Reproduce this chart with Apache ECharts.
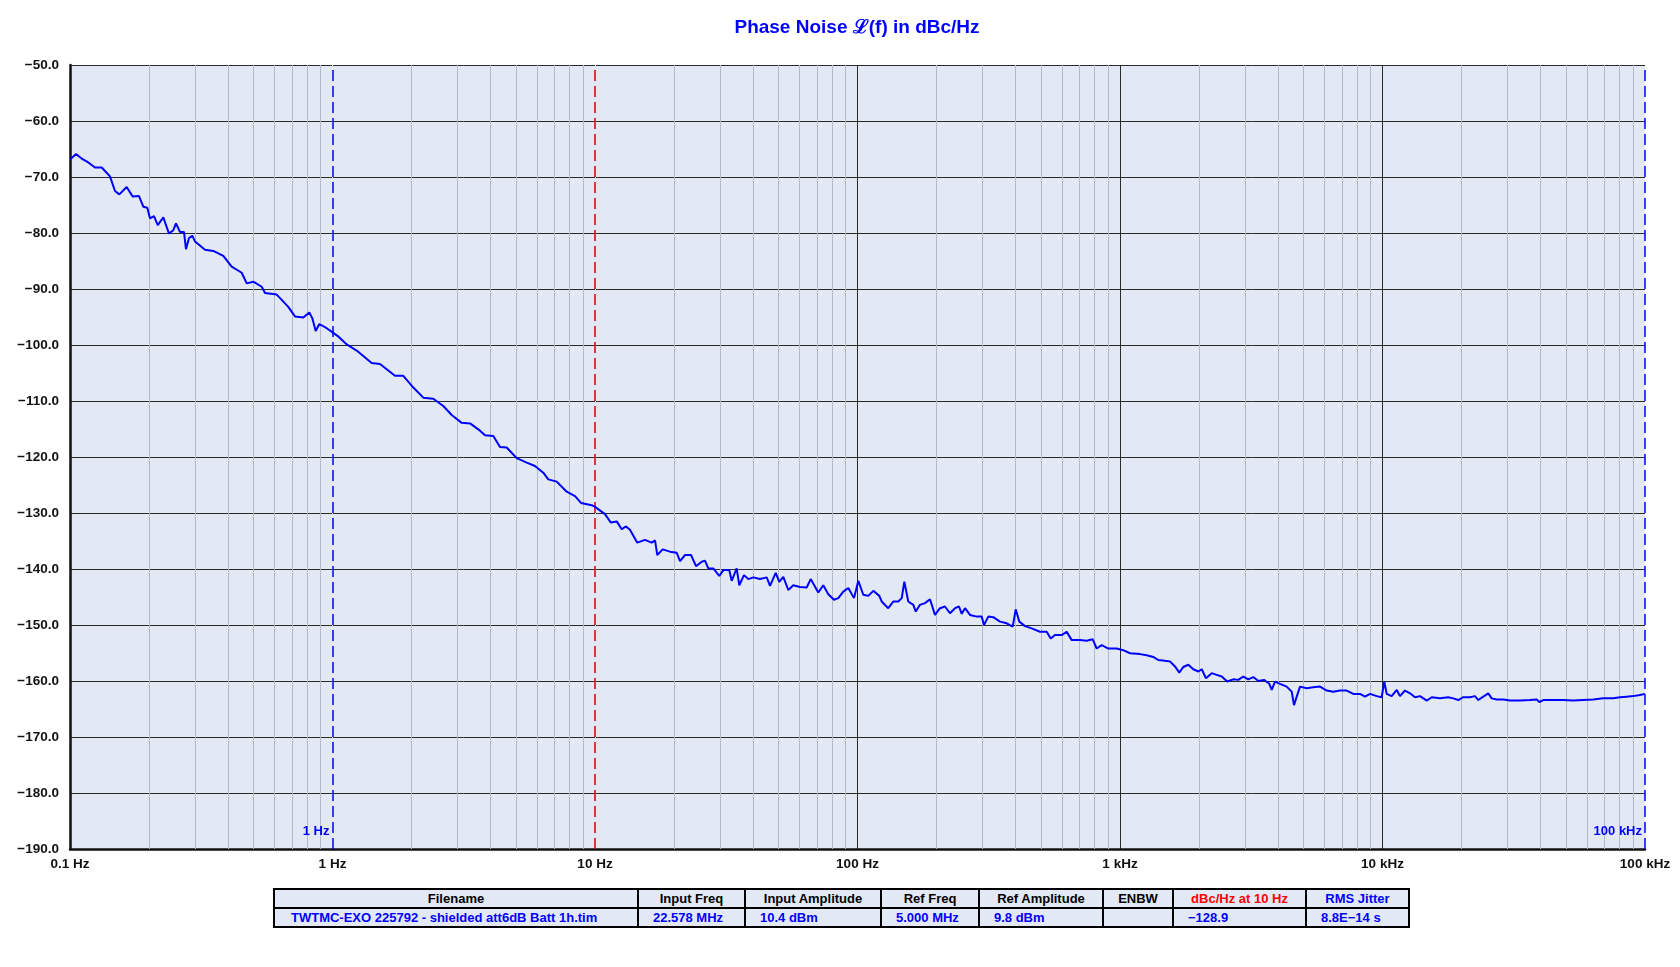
<!DOCTYPE html>
<html>
<head>
<meta charset="utf-8">
<script src="https://cdn.jsdelivr.net/npm/echarts@6/dist/echarts.min.js"></script>
<style>
  html, body { margin: 0; padding: 0; background: #ffffff; }
  #chart { position: absolute; left: 0; top: 0; width: 1680px; height: 967px; }
  #info {
    position: absolute; left: 273px; top: 888px; width: 1135px;
    border-collapse: collapse; table-layout: fixed;
    font-family: "Liberation Sans", Arial, sans-serif; font-size: 13px; font-weight: bold;
    background: #e3e8f5; border: 2px solid #000;
  }
  #info td, #info th { border: 2px solid #000; height: 17px; padding: 0; white-space: nowrap; overflow: hidden; line-height: 17px; }
  #info th { text-align: center; color: #000; font-weight: bold; }
  #info td { text-align: left; color: #0000ff; padding-left: 14px; }
  #info td.first { padding-left: 16px; }
</style>
</head>
<body>
<div id="chart"></div>
<table id="info"><colgroup id="cols"></colgroup><tr id="hdr"></tr><tr id="row"></tr></table>
<script>
// ---- data ----
const freqHz = [
  0.1, 0.1054, 0.1108, 0.1174, 0.1245, 0.1321, 0.142, 0.1484, 0.1541, 0.1644,
  0.1734, 0.1832, 0.1902, 0.197, 0.2018, 0.2089, 0.2159, 0.2267, 0.2383, 0.2475,
  0.2534, 0.2624, 0.2718, 0.2766, 0.284, 0.2924, 0.2994, 0.3268, 0.3515, 0.3837,
  0.413, 0.451, 0.4712, 0.4993, 0.5375, 0.5533, 0.6131, 0.6785, 0.7195, 0.7742,
  0.8157, 0.8375, 0.863, 0.8906, 0.9502, 0.998, 1.06, 1.133, 1.236, 1.41,
  1.517, 1.73, 1.861, 2.032, 2.218, 2.421, 2.643, 2.845, 3.106, 3.341,
  3.647, 3.811, 4.099, 4.346, 4.608, 5.031, 5.494, 5.908, 6.353, 6.638,
  7.147, 7.803, 8.393, 8.845, 9.714, 10.0, 10.92, 11.48, 12.10, 12.64,
  13.12, 13.59, 14.49, 15.50, 16.44, 16.93, 17.27, 18.11, 19.31, 20.48,
  21.08, 22.03, 23.22, 24.26, 25.50, 26.24, 27.02, 28.23, 29.75, 30.82,
  32.48, 33.17, 34.65, 35.45, 36.95, 38.37, 40.09, 42.53, 45.10, 46.42,
  48.80, 50.36, 52.16, 54.50, 56.94, 60.39, 64.04, 66.32, 70.90, 74.08,
  77.40, 81.37, 84.49, 88.29, 92.25, 96.99, 100.7, 105.2, 109.9, 114.9,
  121.1, 123.6, 131.0, 136.9, 143.0, 147.4, 150.8, 156.1, 163.2, 166.7,
  173.0, 180.7, 188.9, 197.3, 206.2, 215.4, 225.1, 235.2, 243.6, 249.5,
  256.8, 268.3, 284.5, 297.2, 303.3, 315.0, 329.1, 349.1, 370.2, 390.2,
  400.6, 413.4, 434.6, 460.8, 495.6, 525.7, 544.5, 565.4, 599.6, 626.5,
  654.6, 704.0, 746.6, 787.0, 815.2, 851.8, 902.6, 971.4, 1029, 1092,
  1192, 1264, 1339, 1399, 1484, 1550, 1620, 1682, 1742, 1821,
  1902, 1988, 2048, 2126, 2235, 2336, 2441, 2563, 2701, 2823,
  2950, 3082, 3220, 3365, 3537, 3706, 3785, 3895, 4070, 4315,
  4510, 4601, 4712, 4851, 5143, 5447, 5780, 6131, 6495, 6889,
  7304, 7742, 8208, 8577, 8964, 9504, 9927, 10155, 10375, 10840,
  11330, 11660, 12180, 12730, 13300, 13900, 14740, 15400, 16560, 17810,
  18610, 19440, 20320, 21540, 22510, 23170, 24210, 25290, 26060, 27230,
  28860, 30600, 33410, 36470, 38680, 39570, 40990, 44740, 48850, 53330,
  58210, 63530, 69350, 75720, 80330, 85180, 90250, 95720, 100000
];
const noiseDbc = [
  -66.9, -65.9, -66.7, -67.4, -68.3, -68.3, -69.9, -72.5, -73.1, -71.8,
  -73.5, -73.4, -75.3, -75.5, -77.4, -77.0, -78.6, -77.2, -80.1, -79.5,
  -78.3, -79.8, -79.8, -82.9, -80.9, -80.5, -81.5, -83.0, -83.2, -84.1,
  -86.0, -87.1, -89.0, -88.7, -89.6, -90.7, -91.0, -93.2, -94.9, -95.1,
  -94.2, -95.2, -97.5, -96.25, -97.0, -97.7, -98.6, -99.9, -101.0, -103.2,
  -103.4, -105.5, -105.5, -107.6, -109.4, -109.6, -110.9, -112.5, -113.9, -114.0,
  -115.3, -116.1, -116.25, -118.2, -118.3, -120.2, -121.0, -121.6, -122.8, -124.0,
  -124.4, -126.2, -127.0, -128.2, -128.6, -128.9, -130.2, -131.7, -131.5, -132.9,
  -132.4, -133.0, -135.3, -134.8, -135.3, -134.9, -137.5, -136.5, -136.9, -137.1,
  -138.6, -137.5, -137.5, -139.5, -138.7, -138.5, -139.9, -139.9, -141.25, -140.2,
  -140.2, -142.1, -139.9, -142.9, -141.1, -141.8, -141.5, -141.8, -141.5, -143.0,
  -140.7, -142.3, -141.4, -143.75, -142.9, -143.2, -143.3, -141.8, -144.2, -142.9,
  -144.5, -145.5, -145.2, -144.05, -143.4, -145.2, -142.1, -144.6, -144.8, -143.9,
  -144.8, -145.8, -147.0, -145.8, -145.8, -145.2, -142.25, -145.8, -146.4, -147.6,
  -146.4, -146.1, -145.4, -148.2, -147.0, -146.7, -147.9, -147.0, -146.7, -148.0,
  -147.0, -148.2, -148.5, -148.5, -150.0, -148.5, -148.6, -149.4, -149.7, -150.3,
  -147.2, -149.4, -150.2, -150.6, -151.2, -151.2, -152.4, -151.8, -151.8, -151.2,
  -152.7, -152.7, -152.8, -152.55, -154.2, -153.6, -154.2, -154.2, -154.5, -155.05,
  -155.2, -155.4, -155.7, -156.25, -156.4, -156.5, -157.4, -158.5, -157.5, -157.1,
  -157.9, -158.3, -157.9, -159.5, -158.6, -158.9, -159.2, -160.1, -159.7, -159.8,
  -159.2, -159.7, -159.3, -160.0, -159.8, -160.5, -161.6, -160.1, -160.5, -161.0,
  -161.9, -164.3, -162.8, -161.0, -161.3, -161.1, -161.0, -161.7, -161.9, -161.7,
  -161.7, -162.3, -162.3, -162.8, -162.3, -162.7, -162.9, -160.1, -162.3, -162.7,
  -161.6, -162.7, -161.7, -162.2, -162.9, -162.7, -163.5, -162.9, -163.1, -162.9,
  -163.1, -163.4, -162.9, -162.9, -162.7, -163.4, -162.8, -162.2, -163.1, -163.3,
  -163.3, -163.5, -163.5, -163.4, -163.3, -163.75, -163.4, -163.4, -163.4, -163.5,
  -163.4, -163.3, -163.1, -163.1, -162.9, -162.8, -162.7, -162.5, -162.3
];

const xTickValues = [0.1, 1, 10, 100, 1000, 10000, 100000];
const xTickLabels = ['0.1 Hz', '1 Hz', '10 Hz', '100 Hz', '1 kHz', '10 kHz', '100 kHz'];
const decadeStarts = [0.1, 1, 10, 100, 1000, 10000];
const markerFreqs = [1, 10, 100000];
const markerColors = ['#0000ff', '#d00000', '#0000ff'];
const markerTexts = ['1 Hz', '', '100 kHz'];

const titleText = 'Phase Noise \u2112(f) in dBc/Hz';

const tableHeaders = ['Filename', 'Input Freq', 'Input Amplitude', 'Ref Freq', 'Ref Amplitude', 'ENBW', 'dBc/Hz at 10 Hz', 'RMS Jitter'];
const tableHeaderColors = ['#000', '#000', '#000', '#000', '#000', '#000', '#ff0000', '#0000ff'];
const tableValues = ['TWTMC-EXO 225792 - shielded att6dB Batt 1h.tim', '22.578 MHz', '10.4 dBm', '5.000 MHz', '9.8 dBm', '', '\u2212128.9', '8.8E\u221214 s'];
const tableColWidths = [364, 107, 136, 98, 124, 70, 133, 103];

// ---- table ----
const cols = document.getElementById('cols');
const hdr = document.getElementById('hdr');
const row = document.getElementById('row');
tableHeaders.forEach((h, i) => {
  const c = document.createElement('col'); c.style.width = tableColWidths[i] + 'px'; cols.appendChild(c);
  const th = document.createElement('th'); th.textContent = h; th.style.color = tableHeaderColors[i]; hdr.appendChild(th);
  const td = document.createElement('td'); td.textContent = tableValues[i]; if (i === 0) td.className = 'first'; row.appendChild(td);
});

// ---- chart ----
const minorFreqs = [];
decadeStarts.forEach(d => { for (let m = 2; m <= 9; m++) minorFreqs.push(+(m * d).toPrecision(6)); });

const BG = '#e3e8f5';
const MAJOR = '#2a2a2a';
// decade split lines hidden where a dashed marker sits on top of them
const splitColors = xTickValues.map(t => markerFreqs.some(m => Math.abs(m - t) / t < 1e-6) ? BG : MAJOR);

const font = '"Liberation Sans", Arial, sans-serif';
const chart = echarts.init(document.getElementById('chart'), null, { renderer: 'canvas' });
const fmtY = v => (v < 0 ? '\u2212' : '') + Math.abs(v).toFixed(1);
const fmtX = v => {
  const i = xTickValues.findIndex(t => Math.abs(t - v) / t < 1e-6);
  return i >= 0 ? xTickLabels[i] : '';
};

chart.setOption({
  animation: false,
  backgroundColor: '#ffffff',
  graphic: [{
    type: 'text', x: 857, y: 28, z: 10,
    style: { text: titleText, align: 'center', verticalAlign: 'middle', fill: '#0000ff', font: 'bold 19px ' + font }
  }],
  grid: { left: 70, right: 35, top: 65, bottom: 118, show: true, backgroundColor: BG, borderWidth: 0 },
  xAxis: {
    type: 'log', logBase: 10, min: 0.1, max: 100000, splitNumber: 6,
    axisLine: { show: true, onZero: false, lineStyle: { color: '#111', width: 2.5 } },
    axisTick: { show: false },
    axisLabel: { formatter: fmtX, color: '#111', fontFamily: font, fontWeight: 'bold', fontSize: 13.5, margin: 8, showMaxLabel: true, showMinLabel: true },
    splitLine: { show: true, showMaxLine: false, lineStyle: { color: splitColors, width: 1 } }
  },
  yAxis: {
    type: 'value', min: -190, max: -50, interval: 10,
    axisLine: { show: true, onZero: false, lineStyle: { color: '#111', width: 2.5 } },
    axisTick: { show: false },
    axisLabel: { formatter: fmtY, color: '#111', fontFamily: font, fontWeight: 'bold', fontSize: 13.5, margin: 11 },
    splitLine: { show: true, lineStyle: { color: MAJOR, width: 1 } }
  },
  series: [
    {
      name: 'minor', type: 'line', data: [], z: 1, silent: true,
      markLine: {
        silent: true, symbol: ['none', 'none'], animation: false,
        label: { show: false },
        lineStyle: { color: '#b3bac9', width: 1, type: 'solid' },
        data: minorFreqs.map(f => ({ xAxis: f }))
      }
    },
    {
      name: 'markers', type: 'line', data: [], z: 4, silent: true,
      markLine: {
        silent: true, symbol: ['none', 'none'], animation: false,
        label: { show: false },
        data: markerFreqs.map((f, i) => ({ xAxis: f, lineStyle: { color: markerColors[i], width: 1.5, type: [11, 5] } }))
      },
      markPoint: {
        symbol: 'circle', symbolSize: 0, animation: false,
        label: { show: true, position: 'left', distance: 3, color: '#0000ff', fontFamily: font, fontWeight: 'bold', fontSize: 13, formatter: p => p.name },
        data: markerFreqs.map((f, i) => ({ name: markerTexts[i], coord: [f, -186.8] })).filter(d => d.name)
      }
    },
    {
      name: 'L(f)', type: 'line', z: 5, showSymbol: false, symbol: 'none',
      data: freqHz.map((f, i) => [f, noiseDbc[i]]),
      lineStyle: { color: '#0000ff', width: 2 }
    }
  ]
});
</script>
</body>
</html>
